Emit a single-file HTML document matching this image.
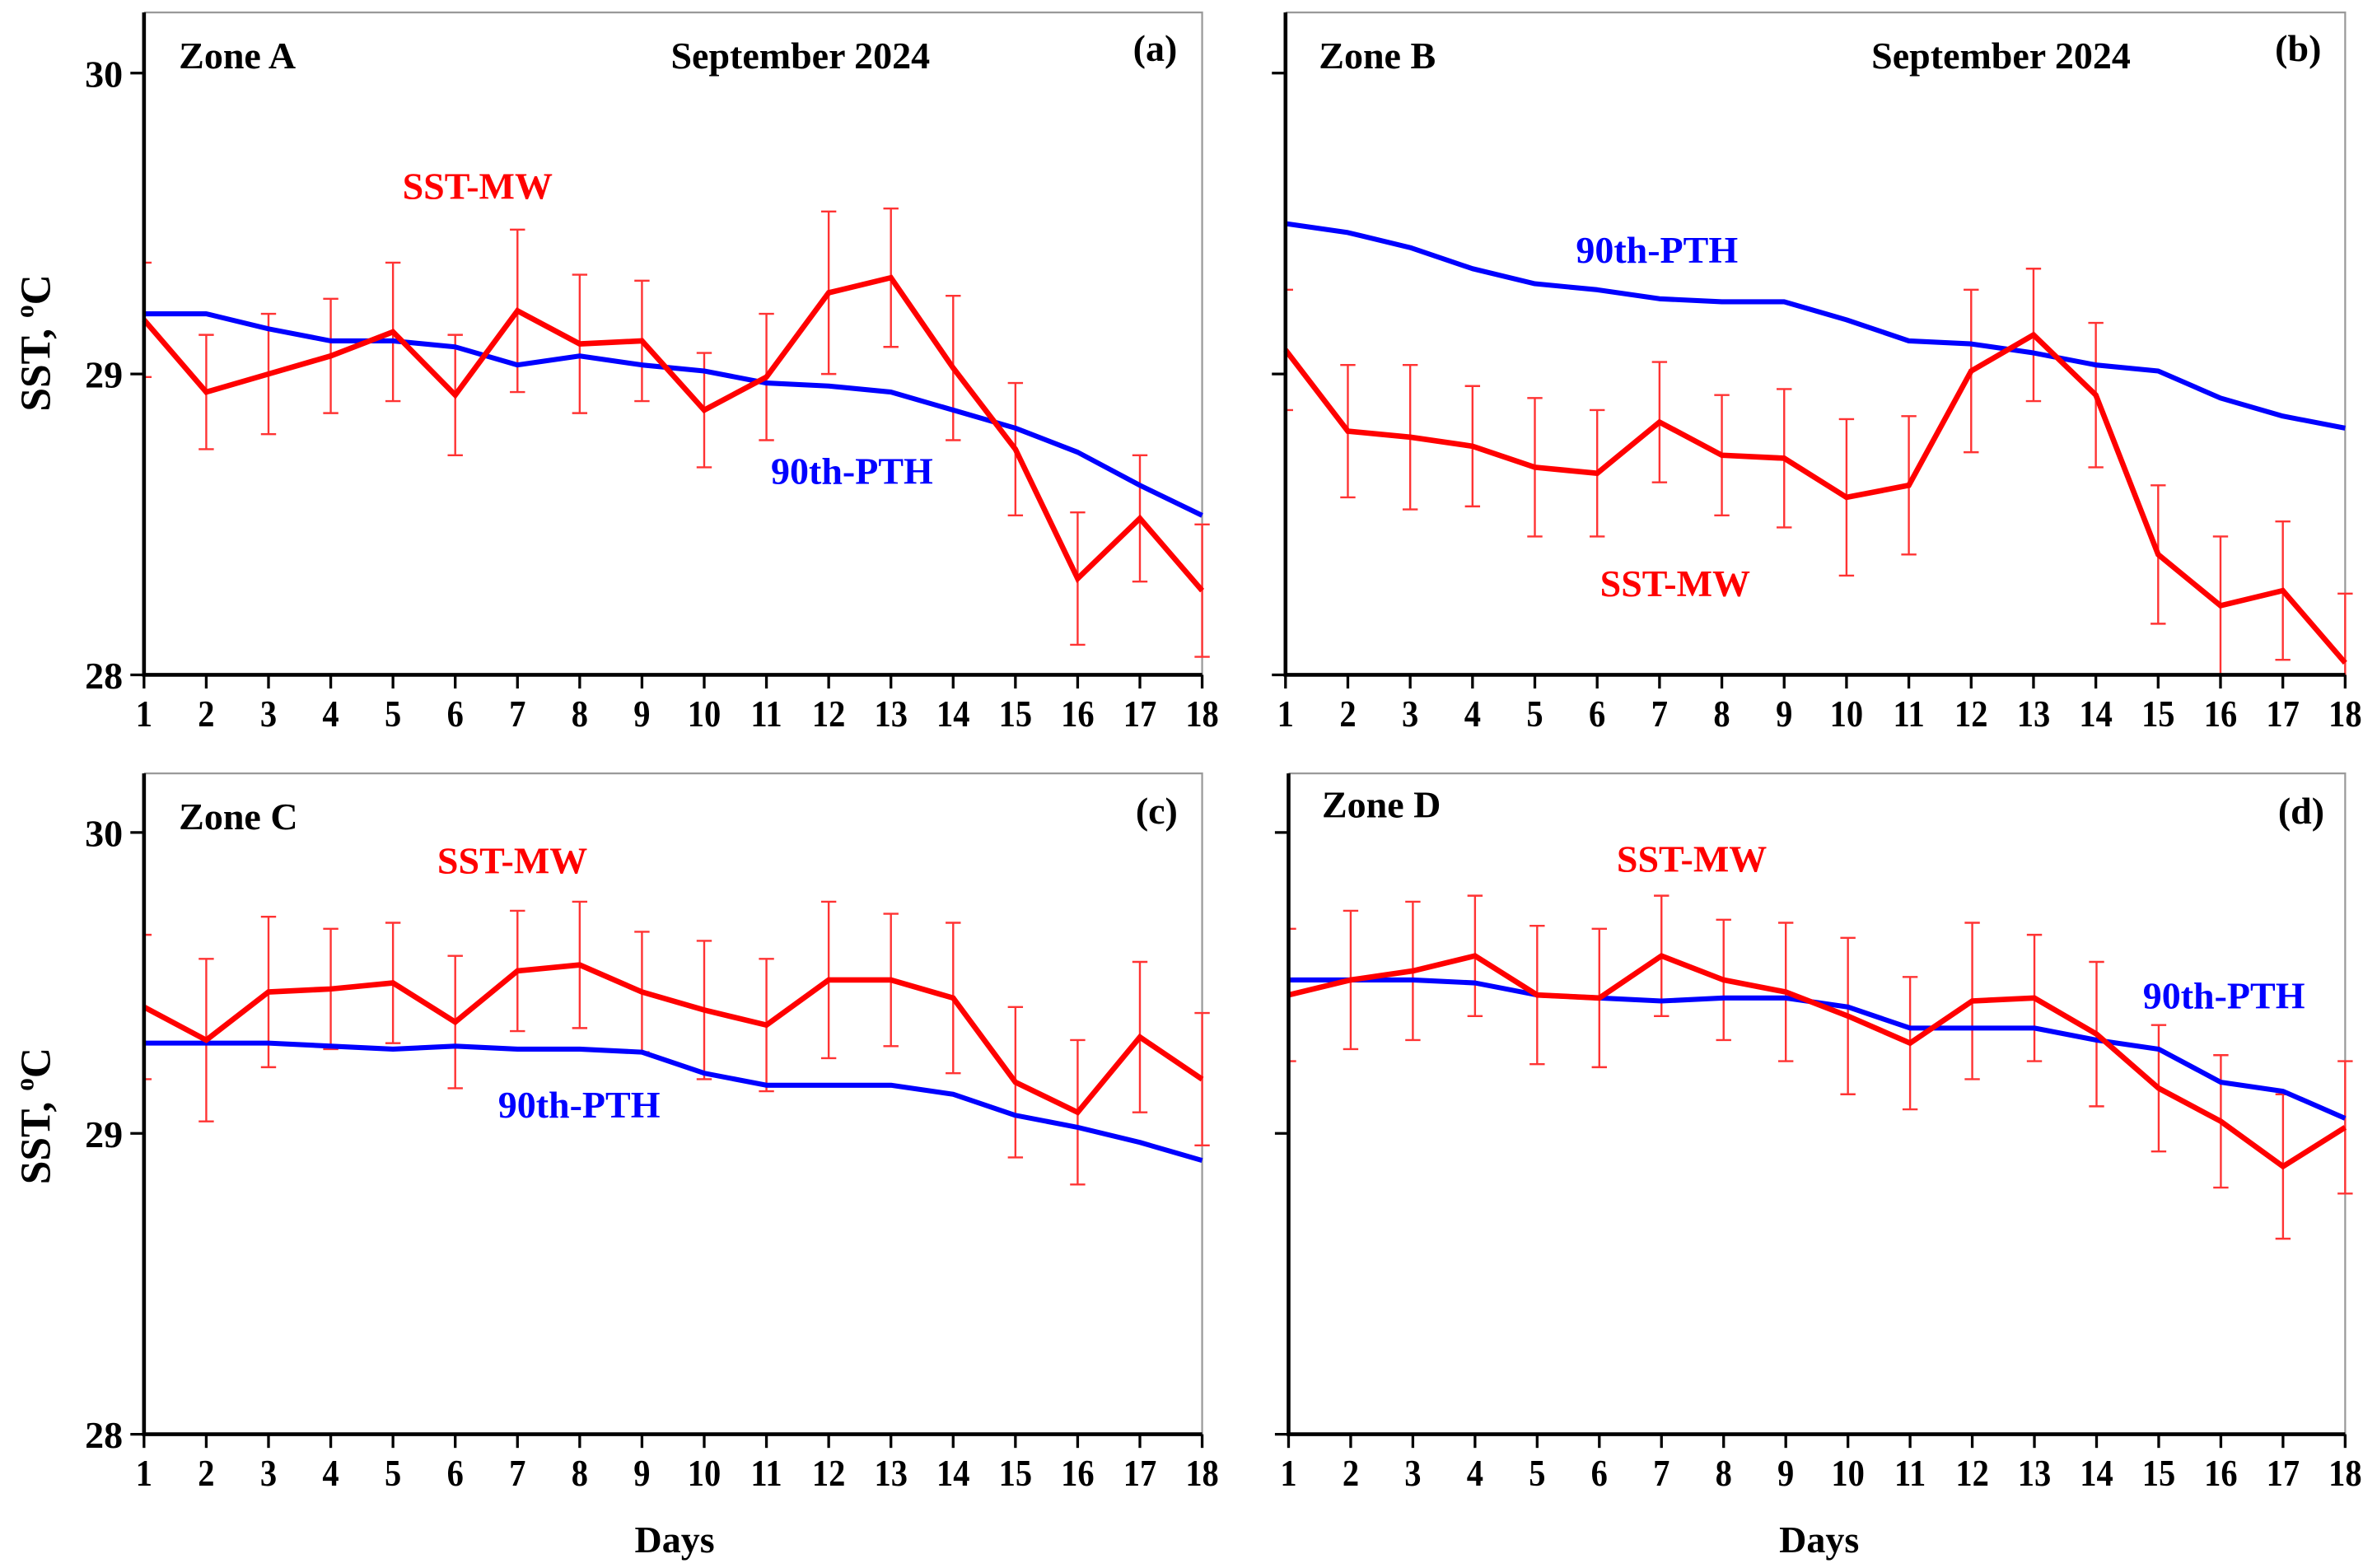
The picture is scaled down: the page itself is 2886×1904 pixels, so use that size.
<!DOCTYPE html>
<html><head><meta charset="utf-8"><style>html,body{margin:0;padding:0;background:#fff}svg{display:block}text{font-family:"Liberation Serif",serif;font-weight:bold}</style></head>
<body>
<svg id="chart" width="2886" height="1904" viewBox="0 0 1568 1034" xmlns="http://www.w3.org/2000/svg">
<rect width="1568" height="1034" fill="#fff"/>
<text x="445" y="1024" font-size="25" text-anchor="middle">Days</text>
<text x="1200" y="1024" font-size="25" text-anchor="middle">Days</text>
<text transform="translate(33,226) rotate(-90)" font-size="28" text-anchor="middle">SST, <tspan dy="-11" font-size="17">o</tspan><tspan dy="11">C</tspan></text>
<text transform="translate(33,736) rotate(-90)" font-size="28" text-anchor="middle">SST, <tspan dy="-11" font-size="17">o</tspan><tspan dy="11">C</tspan></text>
</svg>
<script>
const days = [1,2,3,4,5,6,7,8,9,10,11,12,13,14,15,16,17,18];
const yTicks = [28,29,30];
const sstA = [29.18,28.94,29.00,29.06,29.14,28.93,29.21,29.10,29.11,28.88,28.99,29.27,29.32,29.02,28.75,28.32,28.52,28.28];
const errA = [0.19,0.19,0.2,0.19,0.23,0.2,0.27,0.23,0.2,0.19,0.21,0.27,0.23,0.24,0.22,0.22,0.21,0.22];
const pthA = [29.20,29.20,29.15,29.11,29.11,29.09,29.03,29.06,29.03,29.01,28.97,28.96,28.94,28.88,28.82,28.74,28.63,28.53];
const sstB = [29.08,28.81,28.79,28.76,28.69,28.67,28.84,28.73,28.72,28.59,28.63,29.01,29.13,28.93,28.40,28.23,28.28,28.04];
const errB = [0.2,0.22,0.24,0.2,0.23,0.21,0.2,0.2,0.23,0.26,0.23,0.27,0.22,0.24,0.23,0.23,0.23,0.23];
const pthB = [29.50,29.47,29.42,29.35,29.30,29.28,29.25,29.24,29.24,29.18,29.11,29.10,29.07,29.03,29.01,28.92,28.86,28.82];
const sstC = [29.42,29.31,29.47,29.48,29.50,29.37,29.54,29.56,29.47,29.41,29.36,29.51,29.51,29.45,29.17,29.07,29.32,29.18];
const errC = [0.24,0.27,0.25,0.2,0.2,0.22,0.2,0.21,0.2,0.23,0.22,0.26,0.22,0.25,0.25,0.24,0.25,0.22];
const pthC = [29.30,29.30,29.30,29.29,29.28,29.29,29.28,29.28,29.27,29.20,29.16,29.16,29.16,29.13,29.06,29.02,28.97,28.91];
const sstD = [29.46,29.51,29.54,29.59,29.46,29.45,29.59,29.51,29.47,29.39,29.30,29.44,29.45,29.33,29.15,29.04,28.89,29.02];
const errD = [0.22,0.23,0.23,0.2,0.23,0.23,0.2,0.2,0.23,0.26,0.22,0.26,0.21,0.24,0.21,0.22,0.24,0.22];
const pthD = [29.51,29.51,29.51,29.50,29.46,29.45,29.44,29.45,29.45,29.42,29.35,29.35,29.35,29.31,29.28,29.17,29.14,29.05];

const NS="http://www.w3.org/2000/svg";
const svg=document.getElementById('chart');
function mk(tag,attrs,parent){const e=document.createElementNS(NS,tag);for(const k in attrs)e.setAttribute(k,attrs[k]);(parent||svg).appendChild(e);return e;}

const panels=[
 {id:'a',x0:95,x1:793,top:8,y30:48,y28:445,sst:sstA,err:errA,pth:pthA,zone:'Zone A',zx:118,zy:45,sep:528,lx:762,ly:40,sl:[315,131],pl:[562,319],showY:true},
 {id:'b',x0:848,x1:1547,top:8,y30:48,y28:445,sst:sstB,err:errB,pth:pthB,zone:'Zone B',zx:870,zy:45,sep:1320,lx:1516,ly:40,sl:[1105,393],pl:[1093,173],showY:false},
 {id:'c',x0:95,x1:793,top:510,y30:549,y28:946,sst:sstC,err:errC,pth:pthC,zone:'Zone C',zx:118,zy:547,sep:null,lx:763,ly:543,sl:[338,576],pl:[382,737],showY:true},
 {id:'d',x0:850,x1:1547,top:510,y30:549,y28:946,sst:sstD,err:errD,pth:pthD,zone:'Zone D',zx:872,zy:539,sep:null,lx:1518,ly:543,sl:[1116,575],pl:[1467,665],showY:false}
];

panels.forEach(p=>{
 const g=mk('g',{});
 
 
 const xs=d=>p.x0+(d-1)*(p.x1-p.x0)/17;
 const ys=v=>p.y28+(v-28)*(p.y30-p.y28)/2;
 const fr=mk('path',{d:`M${p.x0} ${p.top}H${p.x1}V${p.y28}`,fill:'none',stroke:'#999','stroke-width':1.2},g);
 
 
 const clipId='clip-'+p.id;
 const cp=mk('clipPath',{id:clipId},g);
 mk('rect',{x:p.x0,y:p.top-20,width:p.x1-p.x0+10,height:p.y28-p.top+20},cp);
 const eg=mk('g',{'clip-path':'url(#'+clipId+')'},g);
 
 
 days.forEach((d,i)=>{
  const x=xs(d),yt=ys(p.sst[i]+p.err[i]),yb=ys(p.sst[i]-p.err[i]);
  const e=mk('path',{d:`M${x} ${yt}V${yb}M${x-5} ${yt}H${x+5}M${x-5} ${yb}H${x+5}`,stroke:'#f33','stroke-width':1.3,fill:'none'},eg);
  
  
 });
 const pl=mk('polyline',{points:days.map((d,i)=>xs(d)+','+ys(p.pth[i])).join(' '),fill:'none',stroke:'#00f','stroke-width':3.3,'stroke-linejoin':'round'},g);
 
 
 const sl=mk('polyline',{points:days.map((d,i)=>xs(d)+','+ys(p.sst[i])).join(' '),fill:'none',stroke:'#f00','stroke-width':3.6,'stroke-linejoin':'miter'},g);
 
 
 const ax=mk('path',{d:`M${p.x0} ${p.top}V${p.y28}H${p.x1}`,fill:'none',stroke:'#000','stroke-width':2.5},g);
 
 
 days.forEach(d=>{
  const t=mk('line',{x1:xs(d),x2:xs(d),y1:p.y28,y2:p.y28+9,stroke:'#000','stroke-width':1.8},g);
  
  
  const l=mk('text',{x:xs(d),y:p.y28+34,'font-size':25,'text-anchor':'middle',transform:`translate(${xs(d)*0.12},0) scale(0.88,1)`},g);
  
  
  l.textContent=d;
 });
 yTicks.forEach(v=>{
  const t=mk('line',{x1:p.x0-9,x2:p.x0,y1:ys(v),y2:ys(v),stroke:'#000','stroke-width':1.8},g);
  
  
  if(p.showY){
   const l=mk('text',{x:p.x0-14,y:ys(v)+9,'font-size':25,'text-anchor':'end'},g);
   
   
   l.textContent=v;
  }
 });
 const z=mk('text',{x:p.zx,y:p.zy,'font-size':25},g);
 
 
 z.textContent=p.zone;
 if(p.sep){
  const s=mk('text',{x:p.sep,y:45,'font-size':25,'text-anchor':'middle'},g);
  
  
  s.textContent='September 2024';
 }
 const pid=mk('text',{x:p.lx,y:p.ly,'font-size':25,'text-anchor':'middle'},g);
 
 
 pid.textContent='('+p.id+')';
 const a1=mk('text',{x:p.sl[0],y:p.sl[1],'font-size':25,'text-anchor':'middle',fill:'#f00'},g);
 
 
 a1.textContent='SST-MW';
 const a2=mk('text',{x:p.pl[0],y:p.pl[1],'font-size':25,'text-anchor':'middle',fill:'#00f'},g);
 
 
 a2.textContent='90th-PTH';
});
</script>
</body></html>
